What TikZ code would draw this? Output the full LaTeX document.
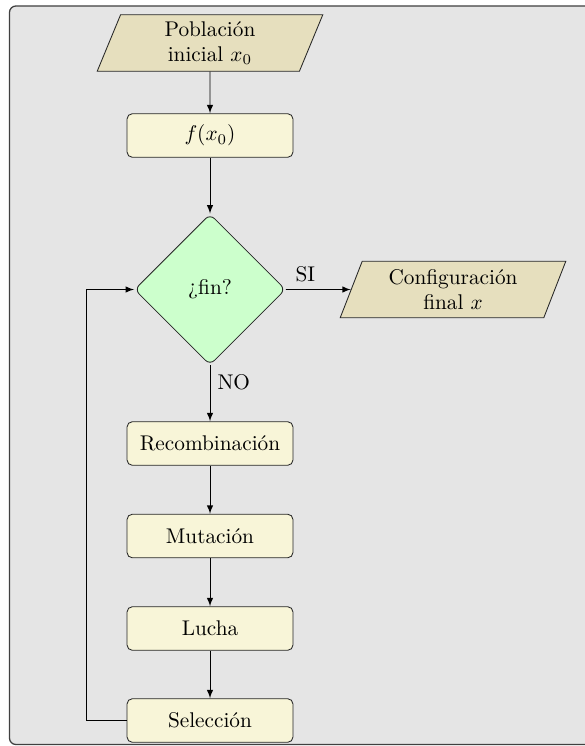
\documentclass[tikz,border=0pt]{standalone}
\usetikzlibrary{shapes.geometric,arrows}

\definecolor{fondo}{HTML}{E5E5E5}
\definecolor{arena}{HTML}{E6DFBE}
\definecolor{crema}{HTML}{F8F5D8}
\definecolor{verde}{HTML}{CCFFCC}

\tikzset{
  paso/.style={draw=black!85, fill=crema, rounded corners=2.5pt,
    minimum width=78pt, minimum height=20.5pt},
  datos/.style={trapezium, trapezium left angle=64, trapezium right angle=116,
    trapezium stretches body=true, draw=black!85, fill=arena, align=center,
    minimum width=106pt, minimum height=26.5pt, inner sep=1pt},
  pregunta/.style={diamond, draw=black!85, fill=verde, rounded corners=3pt,
    minimum width=71pt, minimum height=71pt, aspect=1},
  flecha/.style={->, >=latex}
}

\begin{document}
\begin{tikzpicture}[x=0.47pt, y=-0.47pt]
            \useasboundingbox (0,0) rectangle (584,746);
            \draw[fill=fondo, draw=black!75, line width=0.6pt, rounded corners=3pt] (9.5,6) rectangle (620,744.5);

            \node[datos] (poblacion) at (210,43) {Población\\inicial $x_0$};
            \node[paso] (fx) at (210,135.5) {$f(x_0)$};
            \node[pregunta] (fin) at (210,289.5) {¿fin?};
            \node[datos] (final) at (453,289.5) {Configuración\\final $x$};
            \node[paso] (recomb) at (210,443.5) {Recombinación};
            \node[paso] (mutacion) at (210,536) {Mutación};
            \node[paso] (lucha) at (210,628.5) {Lucha};
            \node[paso] (seleccion) at (210,720.5) {Selección};
            \coordinate (vuelta) at (86,720.5);

            \draw[flecha] (poblacion) -- (fx);
            \draw[flecha] (fx) -- (fin);
            \draw[flecha] (fin) -- node[above, pos=0.3] {SI} (final);
            \draw[flecha] (fin) -- node[right, pos=0.3] {NO} (recomb);
            \draw[flecha] (recomb) -- (mutacion);
            \draw[flecha] (mutacion) -- (lucha);
            \draw[flecha] (lucha) -- (seleccion);
            \draw[flecha] (seleccion) -- (vuelta) |- (fin);
        \end{tikzpicture}
\end{document}
